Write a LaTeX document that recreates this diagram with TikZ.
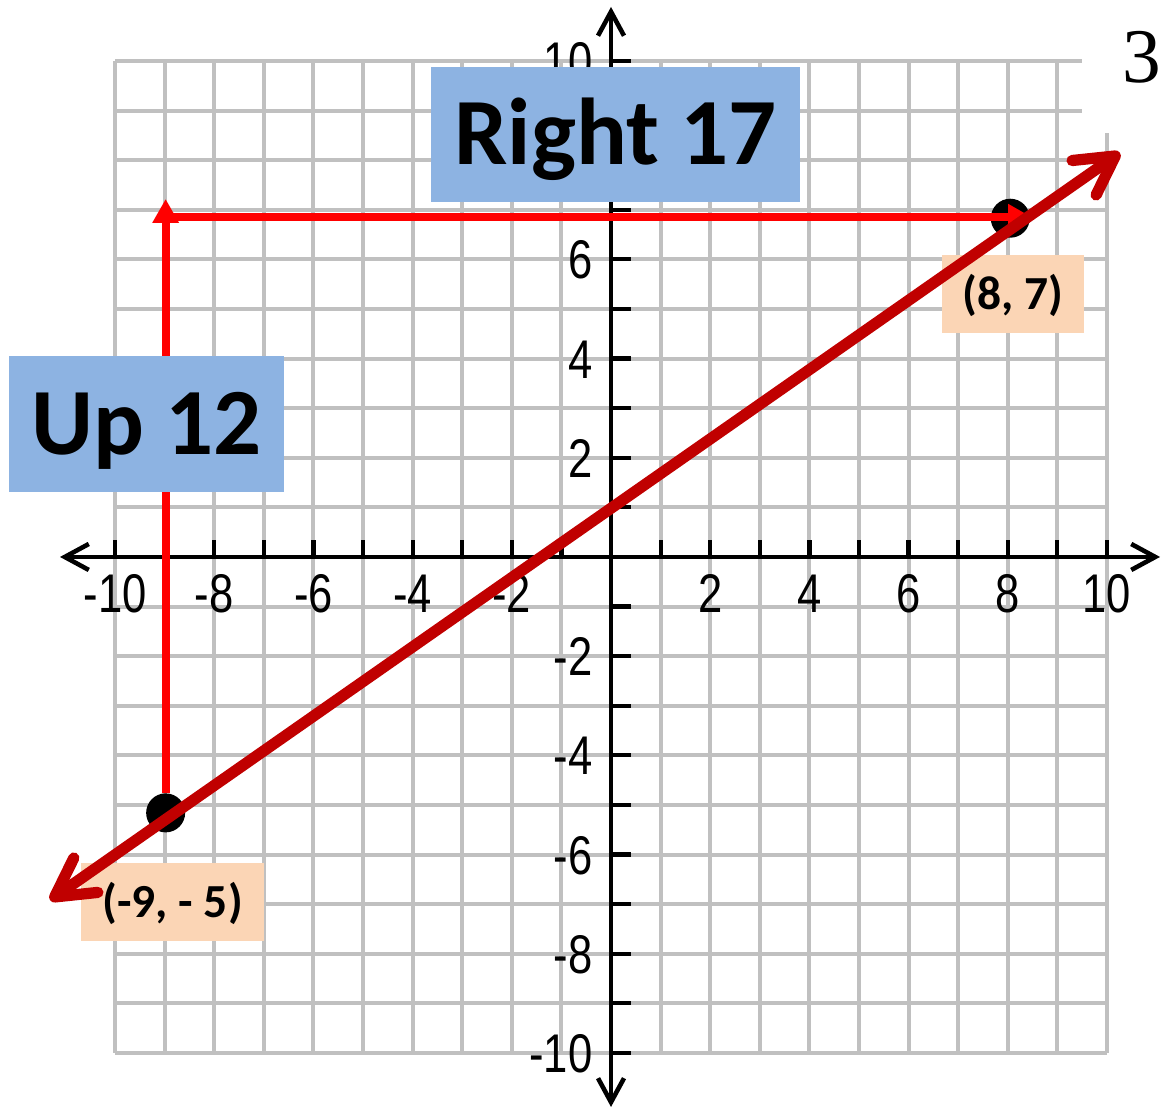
\documentclass[tikz,border=0pt]{standalone}
\usepackage{fontspec}
\usepackage{tikz}
\usetikzlibrary{arrows.meta, positioning, calc}
\newfontfamily\boxfont{Carlito}
\newfontfamily\axisfont[FakeStretch=0.8]{Liberation Sans}
\newfontfamily\numfont{Liberation Serif}
\definecolor{gridgray}{HTML}{C0C0C0}
\definecolor{boxblue}{HTML}{8DB3E2}
\definecolor{boxpeach}{HTML}{FBD5B5}
\definecolor{darkred}{HTML}{C00000}
\definecolor{brightred}{HTML}{FF0000}
\tikzstyle{gridline} = [draw=gridgray, line width=1.15pt]
\tikzstyle{axisline} = [line width=1.3pt, {Straight Barb[length=2.4mm, width=2.6mm]}-{Straight Barb[length=2.4mm, width=2.6mm]}]
\tikzstyle{tickmark} = [line width=1.2pt]
\tikzstyle{axislbl} = [font=\axisfont\fontsize{15.5}{16}\selectfont, inner sep=0pt, text height=11.1pt, text depth=0pt]
\tikzstyle{dotnode} = [circle, fill=black, minimum size=3.9mm, inner sep=0pt]
\tikzstyle{moveline} = [line width=2.3pt, draw=brightred, -{Triangle[length=2.4mm, width=2.5mm]}]
\tikzstyle{fitline} = [line width=3.2pt, draw=darkred, line cap=round, {Straight Barb[length=3.8mm, width=4.2mm, round]}-{Straight Barb[length=3.8mm, width=4.2mm, round]}]
\tikzstyle{movebox} = [fill=boxblue, font=\boxfont\bfseries\fontsize{27}{30}\selectfont, text height=17.4pt, text depth=0pt, inner sep=0pt]
\tikzstyle{pointlbl} = [fill=boxpeach, minimum height=7.8mm, font=\boxfont\bfseries\fontsize{13.5}{15}\selectfont, text height=8.6pt, text depth=0pt, inner sep=0pt]

\begin{document}
\begin{tikzpicture}[x=0.496cm, y=0.496cm]
    \useasboundingbox (-12.32,-11.13) rectangle (11.13,11.23);
    \foreach \i in {-10,...,10} {
        \draw[gridline] (\i,-10) -- (\i,10);
        \draw[gridline] (-10,\i) -- (10,\i);
    }
    \fill[white] (9.5,8.55) rectangle (10.3,10.3);

    % axes
    \coordinate (xmin) at (-11.11,0);
    \coordinate (xmax) at (11.07,0);
    \coordinate (ymin) at (0,-11.09);
    \coordinate (ymax) at (0,11.09);
    \draw[axisline] (xmin) -- (xmax);
    \draw[axisline] (ymin) -- (ymax);
    \foreach \i in {-10,...,10} {
        \draw[tickmark] (\i,0) -- (\i,0.35);
        \draw[tickmark] (0,\i) -- (0.4,\i);
    }
    \foreach \i in {-10,-8,-6,-4,-2,2,4,6,8,10}
        \node (xl\i) [axislbl] at (\i,-0.72) {\i};
    \foreach \i in {10,6,4,2,-2,-4,-6,-8,-10}
        \node (yl\i) [axislbl, anchor=east] at (-0.36,\i) {\i};

    % the two points and the moves between them
    \node (ptA) [dotnode] at (-8.98,-5.16) {};
    \node (ptB) [dotnode] at (8.05,6.83) {};
    \coordinate (upTip) at (-8.98,7.22);
    \coordinate (rtStart) at (-8.98,6.85);
    \coordinate (rtTip) at (8.49,6.85);
    \draw[moveline] (ptA.north) -- (upTip);
    \draw[moveline] (rtStart) -- (rtTip);

    \node (upbox) [movebox, minimum width=2.75cm, minimum height=1.36cm] at (-9.37,2.68) {Up 12};
    \node (rightbox) [movebox, minimum width=3.69cm, minimum height=1.35cm] at (0.09,8.52) {Right 17};
    \node (lblA) [pointlbl, minimum width=1.83cm] at (-8.84,-6.96) {(-9, - 5)};
    \node (lblB) [pointlbl, minimum width=1.42cm] at (8.10,5.30) {(8, 7)};

    % line through both points
    \coordinate (lnS) at (-11.31,-6.92);
    \coordinate (lnE) at (10.26,8.15);
    \draw[fitline] (lnS) -- (lnE);

    \node (pagenum) [font=\numfont\fontsize{22}{24}\selectfont, anchor=east, inner sep=0pt, text height=14.9pt, text depth=0pt] at (11.1,10.1) {3};
\end{tikzpicture}
\end{document}
